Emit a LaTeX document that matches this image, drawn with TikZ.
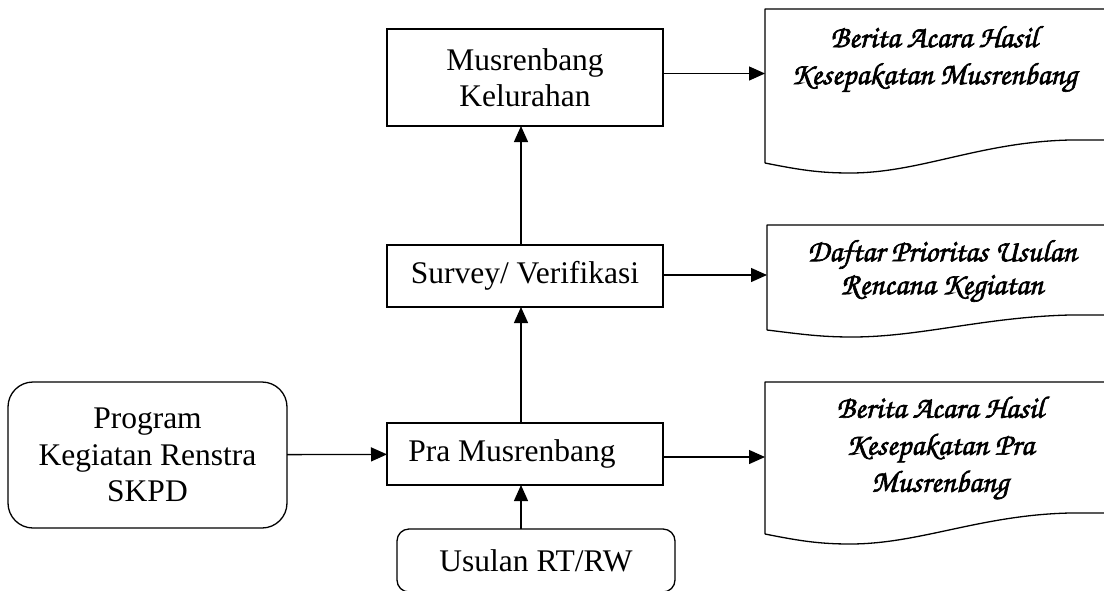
\documentclass[tikz,border=0pt]{standalone}
\usepackage{fontspec}
\setmainfont{Liberation Serif}
\newfontfamily\corsiva[FakeBold=2]{texgyrechorus-mediumitalic.otf}
\usetikzlibrary{arrows.meta}
\begin{document}
\begin{tikzpicture}[x=1pt,y=-1pt,
  every node/.style={inner sep=0pt, outer sep=0pt},
  box/.style={draw, line width=1.3pt, minimum width=276pt, font=\fontsize{31.5}{36.5}\selectfont, align=center},
  rbox/.style={box, rounded corners=22pt},
  doctext/.style={font=\corsiva\fontsize{31}{37}\selectfont, align=center},
  docline/.style={line width=1.3pt, line join=round},
  arr/.style={line width=1.3pt, -{Triangle[length=16pt,width=14pt]}}]
\useasboundingbox (0,0) rectangle (1104,590);
\fill[white] (0,0) rectangle (1104,590);

% process boxes
\node[box, minimum height=97pt] (mk) at (525,77.5) {Musrenbang\\Kelurahan};
\node[box, minimum height=62pt] (sv) at (525,276) {Survey/ Verifikasi};
\node[box, minimum height=62pt] (pm) at (525,454) {Pra Musrenbang\hspace{26pt}};
\node[rbox, minimum width=278pt, minimum height=63pt, rounded corners=12pt] (us) at (536,560.5) {Usulan RT/RW};
\node[rbox, minimum width=279pt, minimum height=146pt, rounded corners=25pt] (pg) at (147.5,455) {Program\\Kegiatan Renstra\\SKPD};

% document areas (anchors)
\node[minimum width=347pt, minimum height=154pt] (d1) at (938.5,86) {};
\node[minimum width=345pt, minimum height=105pt] (d2) at (939.5,277.5) {};
\node[minimum width=347pt, minimum height=152pt] (d3) at (938.5,458) {};

% document outlines
\draw[docline] (d1.south west) -- (d1.north west) -- (1112,9) -- (1112,140)
  -- (1070,140) .. controls (980,142) and (920,173) .. (850,173)
  .. controls (820,173) and (800,170) .. (d1.south west);
\draw[docline] (d2.south west) -- (d2.north west) -- (1112,225) -- (1112,315)
  -- (1070,315) .. controls (985,317) and (920,337) .. (852,337)
  .. controls (820,337) and (800,334) .. (d2.south west);
\draw[docline] (d3.south west) -- (d3.north west) -- (1112,382) -- (1112,513)
  -- (1070,513) .. controls (980,515) and (920,544) .. (850,544)
  .. controls (820,544) and (800,541) .. (d3.south west);

% document texts
\node[doctext] (t1) at (934,59) {Berita Acara Hasil\\Kesepakatan Musrenbang};
\node[doctext, font=\corsiva\fontsize{31}{33}\selectfont] (t2) at (942,271) {Daftar Prioritas Usulan\\Rencana Kegiatan};
\node[doctext] (t3) at (940,448) {Berita Acara Hasil\\Kesepakatan Pra\\Musrenbang};

% connectors
\draw[arr] (pg) -- (pm);
\draw[arr] ([xshift=-4pt]pm.south |- us.north) -- ([xshift=-4pt]pm.south);
\draw[arr] ([xshift=-4pt]pm.north) -- ([xshift=-4pt]sv.south);
\draw[arr] ([xshift=-4pt]sv.north) -- ([xshift=-4pt]mk.south);
\draw[arr] ([yshift=4pt]mk.east) -- ([yshift=4pt]mk.east -| d1.west);
\draw[arr] ([yshift=1pt]sv.east) -- ([yshift=1pt]sv.east -| d2.west);
\draw[arr] ([yshift=-3pt]pm.east) -- ([yshift=-3pt]pm.east -| d3.west);
\end{tikzpicture}
\end{document}
